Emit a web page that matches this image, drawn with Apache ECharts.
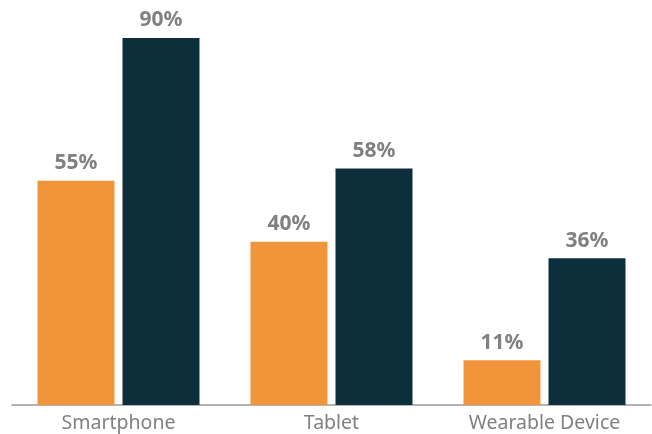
<!DOCTYPE html>
<html><head><meta charset="utf-8">
<script src="https://cdn.jsdelivr.net/npm/echarts@6/dist/echarts.min.js"></script>
<style>html,body{margin:0;padding:0;background:#fff}#c{width:652px;height:434px}</style>
</head><body><div id="c"></div>
<script>
var categories = ['Smartphone', 'Tablet', 'Wearable Device'];
var seriesA = [55, 40, 11];
var seriesB = [90, 58, 36];
var chart = echarts.init(document.getElementById('c'), null, {renderer: 'canvas'});
var lbl = {show: true, position: 'top', distance: 7, formatter: '{c}%', color: '#808080', fontFamily: 'Noto Sans', fontWeight: 'bold', fontSize: 21};
chart.setOption({
  animation: false,
  grid: {left: 12, right: 1, top: 0, bottom: 29, containLabel: false},
  xAxis: {type: 'category', data: categories,
    axisLine: {lineStyle: {color: '#9a9a9a', width: 1.5}}, axisTick: {show: false},
    axisLabel: {color: '#808080', fontFamily: 'Noto Sans', fontSize: 19.5, margin: 8}},
  yAxis: {type: 'value', min: 0, max: 99.3, show: false, splitLine: {show: false}},
  series: [
    {type: 'bar', data: seriesA, barWidth: 77, barGap: '10.4%', itemStyle: {color: '#F0953A'}, label: lbl},
    {type: 'bar', data: seriesB, barWidth: 77, itemStyle: {color: '#0D2F3C'}, label: lbl}
  ]
});
</script></body></html>
